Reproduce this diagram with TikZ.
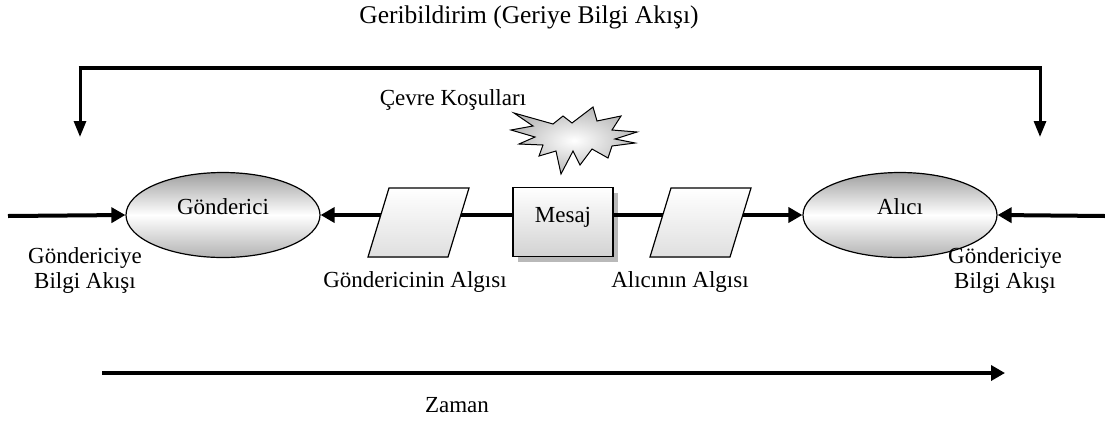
\documentclass[tikz,border=0pt]{standalone}
\usepackage{fontspec}
\setmainfont{Liberation Serif}
\usetikzlibrary{arrows.meta,shapes.geometric,shadows}
\begin{document}
\begin{tikzpicture}[x=1pt,y=-1pt,
  font=\fontsize{23}{25}\selectfont,
  flow/.style={line width=4pt,-{Triangle[length=14pt,width=15pt]}},
  fbline/.style={line width=4.5pt},
  fbarrow/.style={line width=3pt,-{Triangle[length=16pt,width=12pt]}},
  ellnode/.style={ellipse,draw,line width=1.2pt,minimum width=194pt,minimum height=85pt,
    inner sep=0pt,text depth=16pt,top color=gray!75,bottom color=gray!60,middle color=white},
  msgbox/.style={rectangle,draw,line width=1.2pt,minimum width=100pt,minimum height=69pt,
    text depth=14pt,top color=white,bottom color=gray!35,
    general shadow={fill=gray!55,shadow xshift=5pt,shadow yshift=-5pt}},
  percep/.style={draw,line width=1.2pt,top color=white,bottom color=gray!25},
  lbl/.style={align=center,inner sep=0pt},
  burst/.style={draw,line width=1pt,inner color=white,outer color=gray!55}
]
\useasboundingbox (0,0) rectangle (1105,421);

% title and labels
\node[lbl,font=\fontsize{25.5}{28}\selectfont] (title) at (529,17) {Geribildirim (Geriye Bilgi Akışı)};
\node[lbl] (cevre) at (453,100) {Çevre Koşulları};

% nodes
\node[ellnode] (gon) at (223,215) {Gönderici};
\node[ellnode] (alici) at (900,215) {Alıcı};
\node[msgbox] (mesaj) at (563,222) {Mesaj};

% starburst
\filldraw[burst]
  (514,113) -- (553,124) -- (563,116) -- (572,123) -- (593,107) -- (597,121)
  -- (621,116) -- (612,130) -- (637,132) -- (615,139) -- (635,143) -- (612,146)
  -- (608,158) -- (592,149) -- (580,165) -- (573,151) -- (561,174) -- (556,151)
  -- (539,156) -- (543,145) -- (519,144) -- (535,137) -- (511,130) -- (533,126)
  -- cycle;

% connectors through perception boxes
\coordinate (mw) at (mesaj.west |- gon.east);
\coordinate (me) at (mesaj.east |- alici.west);
\draw[flow] (mw) -- (gon.east);
\draw[flow] (me) -- (alici.west);
\filldraw[percep] (389,188) -- (469,188) -- (448,257) -- (368,257) -- cycle;
\filldraw[percep] (671,188) -- (751,188) -- (730,257) -- (650,257) -- cycle;

% incoming side arrows
\coordinate (lin) at (8,216);
\coordinate (rin) at (1105,216);
\draw[flow] (lin) -- (gon.west);
\draw[flow] (rin) -- (alici.east);

% feedback loop
\coordinate (fbl) at (80,68);
\coordinate (fbr) at (1040,68);
\coordinate (fbld) at (80,137);
\coordinate (fbrd) at (1040,137);
\draw[fbline] ([xshift=-1.5pt]fbl) -- ([xshift=1.5pt]fbr);
\draw[fbarrow] (fbl) -- (fbld);
\draw[fbarrow] (fbr) -- (fbrd);

% lower labels
\node[lbl] (lgb) at (85,270) {Göndericiye\\Bilgi Akışı};
\node[lbl] (rgb) at (1005,270) {Göndericiye\\Bilgi Akışı};
\node[lbl] (galbl) at (415,282) {Göndericinin Algısı};
\node[lbl] (aalbl) at (680,282) {Alıcının Algısı};

% time axis
\coordinate (t0) at (102,373);
\coordinate (t1) at (1005,373);
\draw[line width=4.5pt,-{Triangle[length=14pt,width=15pt]}] (t0) -- (t1);
\node[lbl] (zaman) at (457,405) {Zaman};
\end{tikzpicture}
\end{document}
